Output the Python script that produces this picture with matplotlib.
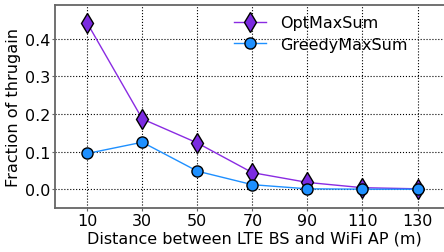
import matplotlib as mpl
mpl.use('Agg')
import matplotlib.pyplot as plt

distance = [10, 30, 50, 70, 90, 110, 130]
opt_max_sum = [0.442, 0.187, 0.123, 0.044, 0.018, 0.004, 0.001]
greedy_max_sum = [0.095, 0.125, 0.048, 0.012, 0.001, 0.0, 0.0]

fig = plt.figure(figsize=(4.44, 2.53), dpi=100)
ax = fig.add_axes([0.124, 0.174, 0.9, 0.802])

ax.plot(distance, opt_max_sum, color='#8a2be2', marker='d', markersize=10,
        markerfacecolor='#7b2be0', markeredgecolor='black', linewidth=1,
        label='OptMaxSum')
ax.plot(distance, greedy_max_sum, color='#1e90ff', marker='o', markersize=8,
        markerfacecolor='#1e90ff', markeredgecolor='black', linewidth=1,
        label='GreedyMaxSum')

ax.set_xlim(-1.7, 143.5)
ax.set_ylim(-0.05, 0.49)
ax.set_xticks(distance)
ax.set_yticks([0.0, 0.1, 0.2, 0.3, 0.4])
ax.grid(True, color='black', linestyle=':', linewidth=0.8)
ax.tick_params(labelsize=11.5, length=2, pad=1.5, color='#666666')
for s in ax.spines.values():
    s.set_color('#666666')
    s.set_linewidth(1.3)
ax.spines['right'].set_visible(False)

ax.set_xlabel('Distance between LTE BS and WiFi AP (m)', fontsize=11.5, labelpad=2)
ax.set_ylabel('Fraction of thrugain', fontsize=11.6, labelpad=3)
ax.legend(loc='upper left', bbox_to_anchor=(0.42, 1.005), frameon=False,
          fontsize=11.5, handlelength=2, numpoints=1, borderaxespad=0.3,
          labelspacing=0.4, handletextpad=0.9)

fig.savefig('out.png', dpi=100)
